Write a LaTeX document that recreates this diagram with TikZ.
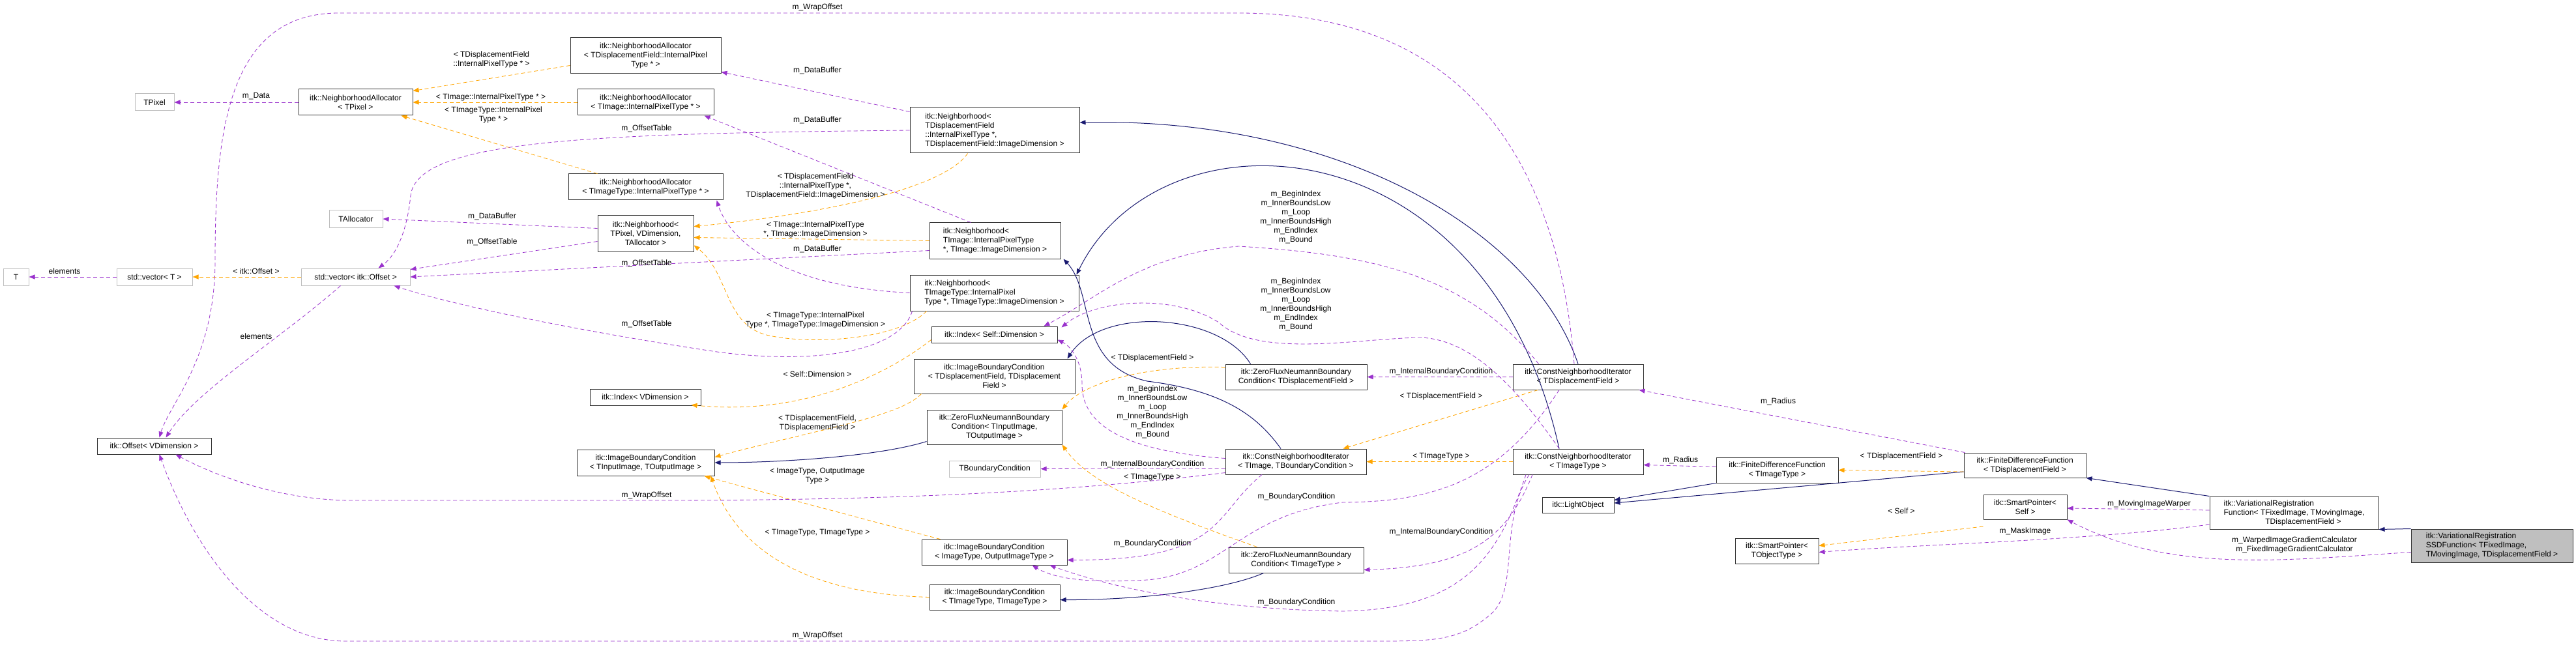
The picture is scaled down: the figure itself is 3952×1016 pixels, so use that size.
\documentclass[tikz,border=0pt]{standalone}
\usepackage{fontspec}
\setmainfont{Liberation Sans}
\usetikzlibrary{calc,arrows.meta}
\definecolor{pu}{HTML}{9A32CD}
\definecolor{orng}{HTML}{FFA500}
\definecolor{blu}{HTML}{191970}
\definecolor{gbord}{HTML}{BFBFBF}
\begin{document}
\begin{tikzpicture}[x=1pt,y=-1pt,
  box/.style={draw=black!80,line width=1pt,fill=white,align=center,inner sep=2pt,font=\fontsize{12}{14}\selectfont},
  lbox/.style={box,align=left},
  gbox/.style={box,draw=gbord},
  lbl/.style={align=center,inner sep=0pt,font=\fontsize{12}{14}\selectfont},
  tip/.style={-{Triangle[length=9pt,width=7pt]}},
  inh/.style={tip,draw=blu,line width=1pt},
  tm/.style={tip,draw=orng,dash pattern=on 6pt off 4pt,line width=0.8pt},
  us/.style={tip,draw=pu,dash pattern=on 6pt off 4pt,line width=0.8pt}]
\useasboundingbox[fill=white] (0,0) rectangle (3952,1016);
% nodes
\node[gbox,minimum width=60,minimum height=26] (TPixel) at (237,157) {TPixel};
\node[box,minimum width=175,minimum height=40] (NAP) at (545.5,157) {itk::NeighborhoodAllocator\\< TPixel >};
\node[gbox,minimum width=82,minimum height=26] (TAlloc) at (546,336) {TAllocator};
\node[gbox,minimum width=39,minimum height=26] (T) at (24.5,425) {T};
\node[gbox,minimum width=116,minimum height=26] (vecT) at (237,425) {std::vector< T >};
\node[gbox,minimum width=167,minimum height=26] (vecOff) at (545.5,425) {std::vector< itk::Offset >};
\node[box,minimum width=175,minimum height=25] (Offset) at (236.5,684.5) {itk::Offset< VDimension >};
\node[box,minimum width=231,minimum height=55] (NATDF) at (990.5,85.5) {itk::NeighborhoodAllocator\\< TDisplacementField::InternalPixel\\Type * >};
\node[box,minimum width=209,minimum height=40] (NATI) at (990.5,157) {itk::NeighborhoodAllocator\\< TImage::InternalPixelType * >};
\node[box,minimum width=237,minimum height=40] (NATIT) at (990.5,287) {itk::NeighborhoodAllocator\\< TImageType::InternalPixelType * >};
\node[box,minimum width=147,minimum height=55] (NTP) at (990.5,358.5) {itk::Neighborhood<\\TPixel, VDimension,\\TAllocator >};
\node[box,minimum width=170,minimum height=25] (IdxV) at (990,609.5) {itk::Index< VDimension >};
\node[box,minimum width=211,minimum height=40] (IBCIO) at (990.5,710) {itk::ImageBoundaryCondition\\< TInputImage, TOutputImage >};
\node[lbox,minimum width=260,minimum height=70] (NTDF) at (1526,200) {itk::Neighborhood<\\ TDisplacementField\\::InternalPixelType *,\\ TDisplacementField::ImageDimension >};
\node[lbox,minimum width=201,minimum height=55] (NTI) at (1526.5,369.5) {itk::Neighborhood<\\ TImage::InternalPixelType\\ *, TImage::ImageDimension >};
\node[lbox,minimum width=259,minimum height=55] (NTIT) at (1525.5,449.5) {itk::Neighborhood<\\ TImageType::InternalPixel\\Type *, TImageType::ImageDimension >};
\node[box,minimum width=193,minimum height=25] (IdxS) at (1525.5,513.5) {itk::Index< Self::Dimension >};
\node[box,minimum width=247,minimum height=53] (IBCTDF) at (1525.5,577.5) {itk::ImageBoundaryCondition\\< TDisplacementField, TDisplacement\\Field >};
\node[box,minimum width=207,minimum height=53] (ZFNIO) at (1525.5,655.5) {itk::ZeroFluxNeumannBoundary\\Condition< TInputImage,\\ TOutputImage >};
\node[gbox,minimum width=140,minimum height=25] (TBC) at (1526,719.5) {TBoundaryCondition};
\node[box,minimum width=223,minimum height=39] (IBCIOT) at (1525.5,847.5) {itk::ImageBoundaryCondition\\< ImageType, OutputImageType >};
\node[box,minimum width=200,minimum height=39] (IBCTT) at (1526,916.5) {itk::ImageBoundaryCondition\\< TImageType, TImageType >};
\node[box,minimum width=217,minimum height=39] (ZFNTDF) at (1988.5,578.5) {itk::ZeroFluxNeumannBoundary\\Condition< TDisplacementField >};
\node[box,minimum width=216,minimum height=39] (CNITBC) at (1988,708.5) {itk::ConstNeighborhoodIterator\\< TImage, TBoundaryCondition >};
\node[box,minimum width=207,minimum height=39] (ZFNTIT) at (1988.5,859.5) {itk::ZeroFluxNeumannBoundary\\Condition< TImageType >};
\node[box,minimum width=200,minimum height=39] (CNITDF) at (2421,578.5) {itk::ConstNeighborhoodIterator\\< TDisplacementField >};
\node[box,minimum width=200,minimum height=39] (CNITIT) at (2421,708.5) {itk::ConstNeighborhoodIterator\\< TImageType >};
\node[box,minimum width=187,minimum height=39] (FDFTIT) at (2726.5,721.5) {itk::FiniteDifferenceFunction\\< TImageType >};
\node[box,minimum width=110,minimum height=24] (Light) at (2421,775) {itk::LightObject};
\node[box,minimum width=128,minimum height=39] (SPTOT) at (2726,845.5) {itk::SmartPointer<\\ TObjectType >};
\node[box,minimum width=187,minimum height=38] (FDFTDF) at (3106.5,714) {itk::FiniteDifferenceFunction\\< TDisplacementField >};
\node[box,minimum width=128,minimum height=38] (SPS) at (3107,778) {itk::SmartPointer<\\ Self >};
\node[lbox,minimum width=259,minimum height=50] (VRF) at (3519.5,787) {itk::VariationalRegistration\\Function< TFixedImage, TMovingImage,\\ \hphantom{Function< T}TDisplacementField >};
\node[lbox,minimum width=248,minimum height=51,fill=gbord] (SSD) at (3823,837.5) {itk::VariationalRegistration\\SSDFunction< TFixedImage,\\ TMovingImage, TDisplacementField >};
% inheritance
\draw[inh] (SSD.north west) -- (VRF.south east);
\draw[inh] (VRF.north west) -- (FDFTDF.south east);
\draw[inh] ($(FDFTDF.west)+(0,10)$) -- ($(Light.east)+(0,-3)$);
\draw[inh] (FDFTIT.south west) -- ($(Light.north east)+(0,5)$);
\draw[inh] (CNITDF.north) .. controls (2350,350) and (2050,180) .. ($(NTDF.east)+(0,-12)$);
\draw[inh] ($(CNITIT.north)+(-29,0)$) .. controls (2280,180) and (1780,160) .. ($(NTIT.north east)+(-4,0)$);
\draw[inh] ($(CNITBC.north)+(-23,0)$) .. controls (1930,640) and (1880,600) .. (1760,585) .. controls (1650,560) and (1680,450) .. ($(NTI.south east)+(4,0)$);
\draw[inh] ($(ZFNTDF.north)+(-70,0)$) .. controls (1870,480) and (1690,470) .. ($(IBCTDF.north east)+(-12,0)$);
\draw[inh] ($(ZFNIO.south west)+(0,-5)$) .. controls (1350,700) and (1200,710) .. (IBCIO.east);
\draw[inh] ($(ZFNTIT.south)+(-50,0)$) .. controls (1880,905) and (1750,921) .. ($(IBCTT.east)+(0,4)$);
% template (orange)
\draw[tm] ($(NATDF.west)+(0,15)$) -- ($(NAP.north east)+(0,3)$);
\draw[tm] (NATI.west) -- (NAP.east);
\draw[tm] ($(NATIT.north west)+(45,0)$) -- ($(NAP.south east)+(-18,0)$);
\draw[tm] ($(NTDF.south west)+(89,0)$) .. controls (1440,300) and (1200,335) .. ($(NTP.east)+(0,-11)$);
\draw[tm] (NTI.west) -- ($(NTP.east)+(0,6)$);
\draw[tm] ($(NTIT.south west)+(26,0)$) .. controls (1380,520) and (1250,530) .. (1180,515) .. controls (1110,500) and (1120,420) .. ($(NTP.south east)+(0,-10)$);
\draw[tm] ($(IdxS.west)+(0,8)$) .. controls (1380,560) and (1250,640) .. ($(IdxV.east)+(-15,12)$);
\draw[tm] ($(IBCTDF.south west)+(12,0)$) .. controls (1380,640) and (1250,660) .. ($(IBCIO.north east)+(0,12)$);
\draw[tm] ($(IBCIOT.north west)+(29,0)$) .. controls (1300,790) and (1150,750) .. ($(IBCIO.south east)+(-16,0)$);
\draw[tm] (IBCTT.west) .. controls (1180,910) and (1115,800) .. ($(IBCIO.south east)+(-6,0)$);
\draw[tm] (vecOff.west) -- (vecT.east);
\draw[tm] ($(CNITDF.south west)+(39,0)$) -- ($(CNITBC.north east)+(-36,0)$);
\draw[tm] (CNITIT.west) -- (CNITBC.east);
\draw[tm] ($(ZFNTDF.west)+(0,-15)$) .. controls (1750,560) and (1660,590) .. (ZFNIO.north east);
\draw[tm] ($(ZFNTIT.north west)+(44,0)$) .. controls (1760,780) and (1670,740) .. (ZFNIO.south east);
\draw[tm] ($(FDFTDF.west)+(0,10)$) -- (FDFTIT.east);
\draw[tm] ($(SPS.west)+(0,30)$) -- ($(SPTOT.east)+(0,-8)$);
% usage (purple)
\draw[us] (NAP.west) -- (TPixel.east);
\draw[us] (vecT.west) -- (T.east);
\draw[us] ($(vecOff.south)+(-23,0)$) .. controls (430,520) and (300,600) .. ($(Offset.north)+(18,0)$);
\draw[us] ($(NTP.west)+(0,-8)$) -- (TAlloc.east);
\draw[us] ($(NTP.west)+(0,12)$) -- ($(vecOff.north east)+(0,2)$);
\draw[us] ($(NTDF.north west)+(0,7)$) -- ($(NATDF.south east)+(0,-3)$);
\draw[us] (NTDF.west) .. controls (900,205) and (640,215) .. (630,300) .. controls (625,350) and (610,390) .. ($(vecOff.north)+(35,0)$);
\draw[us] ($(NTI.north west)+(64,0)$) -- ($(NATI.south east)+(-15,0)$);
\draw[us] ($(NTI.west)+(0,15)$) -- (vecOff.east);
\draw[us] (NTIT.west) .. controls (1200,440) and (1120,370) .. ($(NATIT.south east)+(-10,0)$);
\draw[us] ($(NTIT.south west)+(4,0)$) .. controls (1380,540) and (1250,560) .. (1100,540) .. controls (900,510) and (700,470) .. ($(vecOff.south east)+(-25,0)$);
\draw[us] ($(CNITDF.north)+(-6,0)$) .. controls (2390,250) and (2250,20) .. (1900,20) -- (520,20) .. controls (350,20) and (330,200) .. (330,400) .. controls (330,550) and (260,620) .. ($(Offset.north)+(8,0)$);
\draw[us] ($(CNITBC.west)+(0,17)$) .. controls (1600,760) and (1300,768) .. (1000,768) -- (540,768) .. controls (430,768) and (330,730) .. ($(Offset.south east)+(-55,0)$);
\draw[us] ($(CNITIT.south)+(-75,0)$) .. controls (2300,800) and (2330,900) .. (2290,940) .. controls (2240,985) and (2200,984) .. (2100,984) -- (530,984) .. controls (400,984) and (300,850) .. ($(Offset.south)+(8,0)$);
\draw[us] ($(CNITBC.west)+(0,-5)$) .. controls (1700,690) and (1660,640) .. (1660,590) .. controls (1660,550) and (1640,530) .. ($(IdxS.east)+(0,8)$);
\draw[us] ($(CNITDF.north west)+(40,0)$) .. controls (2250,420) and (2100,390) .. (1900,378) .. controls (1750,390) and (1680,460) .. ($(IdxS.north east)+(-21,0)$);
\draw[us] ($(CNITIT.north)+(-29,0)$) .. controls (2330,600) and (2260,520) .. (2178,518) .. controls (2080,520) and (1930,550) .. (1870,495) .. controls (1800,450) and (1680,460) .. ($(IdxS.north east)+(6,2)$);
\draw[us] ($(CNITBC.west)+(0,10)$) -- (TBC.east);
\draw[us] (CNITDF.west) -- (ZFNTDF.east);
\draw[us] ($(CNITIT.south)+(-70,0)$) .. controls (2310,830) and (2250,870) .. ($(ZFNTIT.east)+(0,15)$);
\draw[us] ($(CNITBC.south)+(-52,0)$) .. controls (1860,790) and (1880,860) .. ($(IBCIOT.east)+(0,12)$);
\draw[us] ($(CNITDF.south)+(-29,0)$) .. controls (2300,740) and (2200,770) .. (2060,771) .. controls (1900,790) and (1880,880) .. (1760,890) .. controls (1680,895) and (1620,890) .. ($(IBCIOT.south east)+(-54,0)$);
\draw[us] ($(CNITIT.south)+(-80,0)$) .. controls (2300,850) and (2250,935) .. (2060,938) .. controls (1850,935) and (1700,900) .. ($(IBCIOT.south east)+(-27,0)$);
\draw[us] ($(FDFTDF.north west)+(2,0)$) -- ($(CNITDF.south east)+(-7,0)$);
\draw[us] ($(FDFTIT.west)+(0,-5)$) -- ($(CNITIT.east)+(0,5)$);
\draw[us] ($(VRF.west)+(0,-4)$) -- ($(SPS.east)+(0,2)$);
\draw[us] ($(VRF.west)+(0,18)$) .. controls (3200,830) and (2950,835) .. ($(SPTOT.east)+(0,2)$);
\draw[us] ($(SSD.west)+(0,10)$) .. controls (3500,860) and (3330,880) .. (SPS.south east);
% labels
\node[lbl] (l1) at (393,148) {m\_Data};
\node[lbl] (l2) at (99,416) {elements};
\node[lbl] (l3) at (393,416) {< itk::Offset >};
\node[lbl] (l4) at (393,516) {elements};
\node[lbl] (l5) at (754,91) {< TDisplacementField\\::InternalPixelType * >};
\node[lbl] (l6) at (753,149) {< TImage::InternalPixelType * >};
\node[lbl] (l7) at (757,176) {< TImageType::InternalPixel\\Type * >};
\node[lbl] (l8) at (1254,11) {m\_WrapOffset};
\node[lbl] (l9) at (1254,108) {m\_DataBuffer};
\node[lbl] (l10) at (1254,184) {m\_DataBuffer};
\node[lbl] (l11) at (992,197) {m\_OffsetTable};
\node[lbl] (l12) at (755,332) {m\_DataBuffer};
\node[lbl] (l13) at (755,371) {m\_OffsetTable};
\node[lbl] (l14) at (1251,285) {< TDisplacementField\\::InternalPixelType *,\\TDisplacementField::ImageDimension >};
\node[lbl] (l15) at (1251,352) {< TImage::InternalPixelType\\*, TImage::ImageDimension >};
\node[lbl] (l16) at (1254,382) {m\_DataBuffer};
\node[lbl] (l17) at (992,404) {m\_OffsetTable};
\node[lbl] (l18) at (1251,491) {< TImageType::InternalPixel\\Type *, TImageType::ImageDimension >};
\node[lbl] (l19) at (992,497) {m\_OffsetTable};
\node[lbl] (l20) at (1254,574) {< Self::Dimension >};
\node[lbl] (l21) at (1254,649) {< TDisplacementField,\\TDisplacementField >};
\node[lbl] (l22) at (1254,731) {< ImageType, OutputImage\\Type >};
\node[lbl] (l23) at (1254,818) {< TImageType, TImageType >};
\node[lbl] (l24) at (992,760) {m\_WrapOffset};
\node[lbl] (l25) at (1254,975) {m\_WrapOffset};
\node[lbl] (l26) at (1988,333) {m\_BeginIndex\\m\_InnerBoundsLow\\m\_Loop\\m\_InnerBoundsHigh\\m\_EndIndex\\m\_Bound};
\node[lbl] (l27) at (1988,467) {m\_BeginIndex\\m\_InnerBoundsLow\\m\_Loop\\m\_InnerBoundsHigh\\m\_EndIndex\\m\_Bound};
\node[lbl] (l28) at (1768,549) {< TDisplacementField >};
\node[lbl] (l29) at (1768,632) {m\_BeginIndex\\m\_InnerBoundsLow\\m\_Loop\\m\_InnerBoundsHigh\\m\_EndIndex\\m\_Bound};
\node[lbl] (l30) at (1768,712) {m\_InternalBoundaryCondition};
\node[lbl] (l31) at (1768,733) {< TImageType >};
\node[lbl] (l32) at (1768,834) {m\_BoundaryCondition};
\node[lbl] (l33) at (1989,762) {m\_BoundaryCondition};
\node[lbl] (l34) at (1989,924) {m\_BoundaryCondition};
\node[lbl] (l35) at (2211,570) {m\_InternalBoundaryCondition};
\node[lbl] (l36) at (2211,608) {< TDisplacementField >};
\node[lbl] (l37) at (2211,701) {< TImageType >};
\node[lbl] (l38) at (2211,816) {m\_InternalBoundaryCondition};
\node[lbl] (l39) at (2728,616) {m\_Radius};
\node[lbl] (l40) at (2578,706) {m\_Radius};
\node[lbl] (l41) at (2917,700) {< TDisplacementField >};
\node[lbl] (l42) at (2917,784) {< Self >};
\node[lbl] (l43) at (3297,773) {m\_MovingImageWarper};
\node[lbl] (l44) at (3107,815) {m\_MaskImage};
\node[lbl] (l45) at (3520,836) {m\_WarpedImageGradientCalculator\\m\_FixedImageGradientCalculator};
\end{tikzpicture}
\end{document}
